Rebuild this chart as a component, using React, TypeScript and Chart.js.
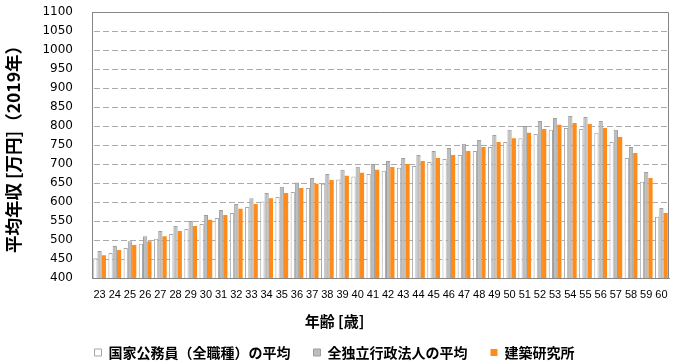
import React, { useEffect, useRef } from 'react';
import { Chart, registerables } from 'chart.js';

Chart.register(...registerables);

const ages = ['23', '24', '25', '26', '27', '28', '29', '30', '31', '32', '33', '34', '35', '36', '37', '38', '39', '40', '41', '42', '43', '44', '45', '46', '47', '48', '49', '50', '51', '52', '53', '54', '55', '56', '57', '58', '59', '60'];

const nationalAvg = [452, 466, 479, 490, 503, 516, 529, 542, 558, 571, 587, 601, 613, 626, 637, 648, 659, 667, 674, 682, 690, 695, 705, 713, 724, 734, 745, 758, 768, 779, 790, 795, 792, 782, 758, 716, 653, 561];
const agencyAvg = [471, 484, 497, 510, 524, 537, 550, 566, 579, 595, 610, 624, 640, 651, 663, 674, 685, 693, 700, 708, 716, 724, 734, 742, 753, 763, 776, 790, 800, 813, 821, 826, 824, 813, 790, 745, 679, 584];
const briValues = [460, 474, 487, 497, 510, 524, 537, 553, 566, 582, 595, 610, 624, 637, 648, 658, 669, 677, 685, 692, 700, 708, 716, 724, 734, 745, 758, 768, 782, 792, 803, 808, 805, 795, 771, 729, 663, 571];

const seriesNames = ['国家公務員（全職種）の平均', '全独立行政法人の平均', '建築研究所'];
const yTitle = '平均年収 [万円]（2019年）';
const xTitle = '年齢 [歳]';
const yMin = 400;
const yMax = 1100;
const yStep = 50;

const CJK = "'Noto Sans CJK JP', 'Noto Sans', sans-serif";

// dashed horizontal grid lines, placed by the y scale's own ticks
const dashedGrid = {
  id: 'dashedGrid',
  beforeDatasetsDraw(chart: any) {
    const { ctx, chartArea, scales } = chart;
    const y = scales.y;
    const dashOn = 6;
    const dashOff = 3;
    ctx.save();
    ctx.fillStyle = '#ABABAB';
    y.ticks.forEach((t: any) => {
      if (t.value <= yMin || t.value >= yMax) return;
      const py = Math.round(y.getPixelForValue(t.value));
      for (let x = chartArea.left + 2; x < chartArea.right - 1; x += dashOn + dashOff) {
        const w = Math.min(dashOn, chartArea.right - 1 - x);
        ctx.fillRect(Math.round(x), py, w, 1);
      }
    });
    ctx.restore();
  },
};

const plotBorder = {
  id: 'plotBorder',
  afterDatasetsDraw(chart: any) {
    const { ctx, chartArea } = chart;
    const { left, top, right, bottom } = chartArea;
    const t = Math.round(top) + 0.5;
    const r = Math.round(right) - 0.5;
    ctx.save();
    ctx.strokeStyle = '#868686';
    ctx.lineWidth = 1;
    ctx.beginPath();
    ctx.moveTo(left, t);
    ctx.lineTo(r, t);
    ctx.lineTo(r, bottom);
    ctx.stroke();
    ctx.restore();
  },
};

export default function App() {
  const canvasRef = useRef<HTMLCanvasElement | null>(null);

  useEffect(() => {
    const canvas = canvasRef.current;
    if (!canvas) return;
    const chart = new Chart(canvas, {
      type: 'bar',
      data: {
        labels: ages,
        datasets: [
          {
            label: seriesNames[0],
            data: nationalAvg,
            backgroundColor: '#FFFFFF',
            borderColor: '#A6A6A6',
            borderWidth: 1,
            categoryPercentage: 0.84,
            barPercentage: 1.0,
          },
          {
            label: seriesNames[1],
            data: agencyAvg,
            backgroundColor: '#BDBDBD',
            borderColor: '#9E9E9E',
            borderWidth: 1,
            categoryPercentage: 0.84,
            barPercentage: 1.0,
          },
          {
            label: seriesNames[2],
            data: briValues,
            backgroundColor: '#FF8C1A',
            borderColor: '#FF8C1A',
            borderWidth: 0,
            categoryPercentage: 0.84,
            barPercentage: 1.0,
          },
        ],
      },
      options: {
        animation: false,
        responsive: false,
        devicePixelRatio: 1,
        layout: { padding: { left: 0, right: 16, top: 12, bottom: 0 } },
        scales: {
          x: {
            type: 'category',
            grid: {
              display: true,
              drawOnChartArea: false,
              drawTicks: true,
              tickLength: 10,
              tickColor: 'rgba(0,0,0,0)',
            },
            border: { display: true, color: '#868686', width: 1 },
            ticks: {
              autoSkip: false,
              maxRotation: 0,
              minRotation: 0,
              padding: 0,
              color: '#000000',
              font: { family: "'Liberation Sans', Arial, sans-serif", size: 11 },
            },
          },
          y: {
            min: yMin,
            max: yMax,
            afterFit: (scale: any) => {
              scale.width = 92;
            },
            grid: {
              display: true,
              drawOnChartArea: false,
              drawTicks: true,
              tickLength: 19,
              tickColor: 'rgba(0,0,0,0)',
              color: 'rgba(0,0,0,0)',
            },
            border: { display: true, color: '#868686', width: 1 },
            ticks: {
              stepSize: yStep,
              autoSkip: false,
              padding: 0,
              color: '#000000',
              font: { family: "'DejaVu Sans', sans-serif", size: 12 },
              callback: (v: any) => String(v),
            },
            title: {
              display: true,
              text: yTitle,
              color: '#000000',
              font: { family: CJK, size: 17.5, weight: 'bold' },
              padding: { top: 3, bottom: 0 },
            },
          },
        },
        plugins: {
          title: {
            display: true,
            position: 'bottom',
            text: xTitle,
            weight: 500,
            color: '#000000',
            font: { family: CJK, size: 15, weight: 'bold' },
            padding: { top: 11.3, bottom: -8 },
          },
          legend: {
            display: true,
            position: 'bottom',
            maxHeight: 40.5,
            labels: {
              boxWidth: 7,
              boxHeight: 7,
              padding: 23,
              color: '#000000',
              font: { family: CJK, size: 14, weight: 'bold' },
            },
          },
          tooltip: { enabled: false },
        },
      },
      plugins: [dashedGrid, plotBorder],
    } as any);
    return () => {
      chart.destroy();
    };
  }, []);

  return (
    <div style={{ position: 'absolute', left: 0, top: 0, width: 685, height: 363, background: '#FFFFFF' }}>
      <canvas ref={canvasRef} width={685} height={363} style={{ display: 'block', width: 685, height: 363 }} />
    </div>
  );
}
